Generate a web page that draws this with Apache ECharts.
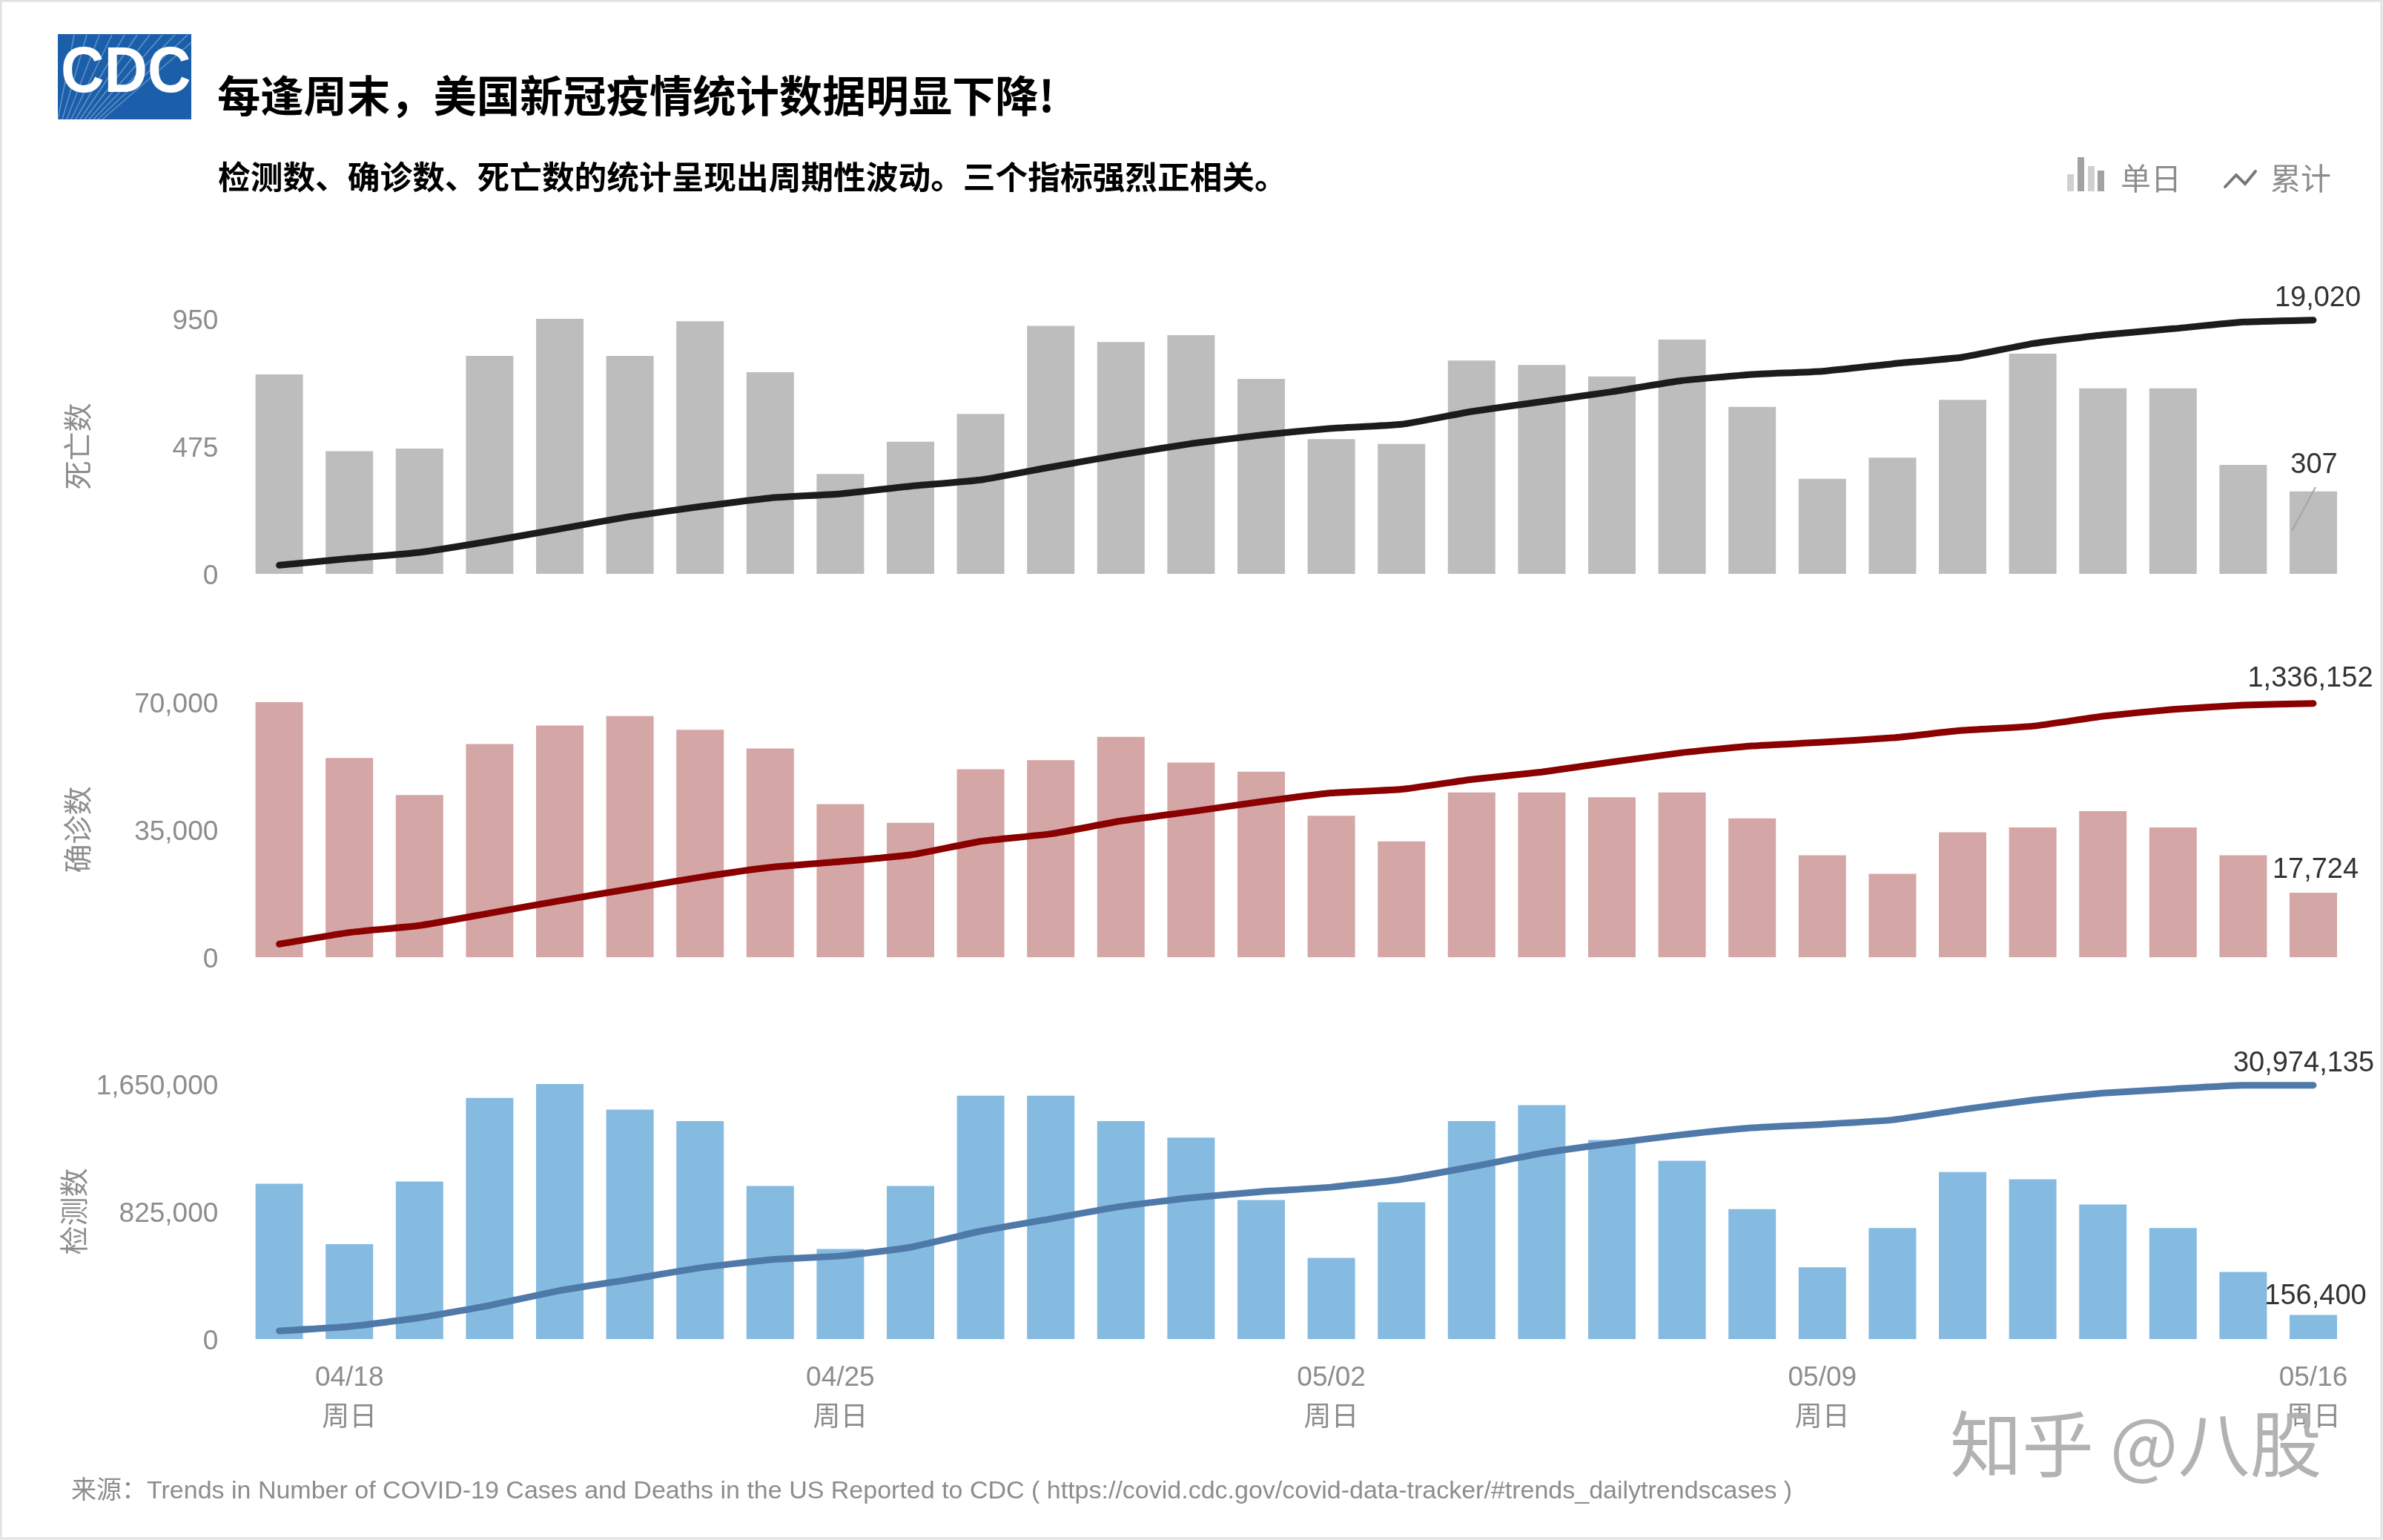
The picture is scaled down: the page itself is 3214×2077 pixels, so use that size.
<!DOCTYPE html>
<html><head><meta charset="utf-8">
<style>html,body{margin:0;padding:0;background:#fff}#c{width:3214px;height:2077px}</style>
<script src="https://cdn.jsdelivr.net/npm/echarts@6/dist/echarts.min.js"></script>
</head><body><div id="c"></div>
<script>
const dates = ['04/17','04/18','04/19','04/20','04/21','04/22','04/23','04/24','04/25','04/26','04/27','04/28','04/29','04/30','05/01','05/02','05/03','05/04','05/05','05/06','05/07','05/08','05/09','05/10','05/11','05/12','05/13','05/14','05/15','05/16'];
const shownDates = ['04/18','04/25','05/02','05/09','05/16'];
const weekdayLabel = '周日';

const deathDaily = [743,457,467,812,950,812,941,751,372,492,596,924,864,889,726,502,484,795,778,735,873,622,354,433,648,820,691,691,406,307];
const deathTotal = [648,1148,1611,2445,3371,4297,5038,5686,6001,6575,7038,8001,8927,9760,10408,10908,11205,12168,12908,13649,14483,14946,15186,15742,16242,17261,17909,18372,18872,19020];
const caseDaily = [70000,54700,44500,58500,63600,66200,62400,57300,42000,36900,51600,54100,60500,53400,50900,38800,31800,45200,45200,43900,45200,38100,28000,22900,34300,35600,40100,35600,28000,17724];
const caseTotal = [69100,130400,166900,232000,297200,359800,421100,473200,503200,538400,610100,649200,717000,766500,818700,864300,883800,936000,975100,1027200,1076800,1112000,1131500,1155000,1194100,1216300,1268400,1304900,1327100,1336152];
const testDaily = [1004800,614400,1019200,1560000,1650000,1484800,1409600,990400,582400,990400,1574400,1574400,1409600,1304000,899200,524800,884800,1409600,1513600,1288000,1153600,840000,464000,718400,1080000,1033600,870400,718400,433600,156400];
const testTotal = [996000,1539600,2596300,4105700,5917000,7275500,8694400,9690700,10143500,11200100,13162400,14671900,16181300,17237900,17992600,18536000,19502100,21011500,22671900,23879500,24936100,25781400,26204100,26747500,28015400,29162600,30007900,30521100,30974135,30974135];

const dailyAxisMax = [950,70000,1650000];
const totalAxisMax = [19113,1342670,31125000];
const panelNames = ['死亡数','确诊数','检测数'];
const titleText = '每逢周末，美国新冠疫情统计数据明显下降!';
const subtitleText = '检测数、确诊数、死亡数的统计呈现出周期性波动。三个指标强烈正相关。';
const sourceText = '来源：Trends in Number of COVID-19 Cases and Deaths in the US Reported to CDC ( https://covid.cdc.gov/covid-data-tracker/#trends_dailytrendscases )';
const watermark = '知乎 @八股';

const FONT = '"Liberation Sans","Noto Sans CJK SC",sans-serif';
const CJK = '"Noto Sans CJK SC",sans-serif';
const GREY = '#8d8d8d', DARK = '#333333';
const panels = [
  {daily:deathDaily,total:deathTotal,bar:'#BDBDBD',line:'#1C1C1C',top:430,totalOffset:[6,4],dailyOffset:[1,-6]},
  {daily:caseDaily,total:caseTotal,bar:'#D5A6A6',line:'#8B0000',top:947,totalOffset:[-4,0],dailyOffset:[3,-1]},
  {daily:testDaily,total:testTotal,bar:'#85BBE1',line:'#4F79A8',top:1462,totalOffset:[-13,4],dailyOffset:[3,4]}
];
const GRID_LEFT=329.3, GRID_W=2838, GRID_H=344;
const fmt = v => Number(v).toLocaleString('en-US');
const lastLabelled = (arr, label) => arr.map((v,i)=> i===arr.length-1 ? {value:v,label} : v);

const grid=[],xAxis=[],yAxis=[],series=[];
panels.forEach((p,i)=>{
  grid.push({left:GRID_LEFT,width:GRID_W,top:p.top,height:GRID_H});
  xAxis.push({type:'category',gridIndex:i,data:dates,axisLine:{show:false},axisTick:{show:false},
    axisLabel: i===2 ? {show:true,interval:0,margin:26,fontFamily:FONT,fontSize:37,color:GREY,lineHeight:54,
      formatter:v=>shownDates.includes(v)?v+'\n'+weekdayLabel:''} : {show:false}});
  yAxis.push({type:'value',gridIndex:i,min:0,max:dailyAxisMax[i],interval:dailyAxisMax[i]/2,
    name:panelNames[i],nameLocation:'middle',nameGap:206,nameRotate:90,
    nameTextStyle:{fontFamily:CJK,fontSize:39,color:GREY},
    axisLine:{show:false},axisTick:{show:false},splitLine:{show:false},
    axisLabel:{margin:35,formatter:v=>'{s|}\n{a|'+fmt(v)+'}',
      rich:{s:{height:8,lineHeight:8,fontSize:1},a:{fontFamily:FONT,fontSize:37,color:GREY,lineHeight:42}}}});
  yAxis.push({type:'value',gridIndex:i,min:0,max:totalAxisMax[i],show:false,splitLine:{show:false}});
  series.push({type:'bar',xAxisIndex:i,yAxisIndex:i*2,barWidth:64,itemStyle:{color:p.bar},
    data:lastLabelled(p.daily,{show:true,position:'top',distance:10,offset:p.dailyOffset,fontFamily:FONT,fontSize:38,color:DARK,formatter:o=>fmt(o.value)})});
  series.push({type:'line',xAxisIndex:i,yAxisIndex:i*2+1,smooth:0.15,symbol:'circle',symbolSize:1,showSymbol:true,showAllSymbol:true,
    itemStyle:{color:p.line},
    lineStyle:{color:p.line,width:9,cap:'round',join:'round'},z:5,
    data:lastLabelled(p.total,{show:true,position:'top',distance:14,offset:p.totalOffset,fontFamily:FONT,fontSize:38,color:DARK,formatter:o=>fmt(o.value)})});
});

const logoLines=[];
for(let k=0;k<11;k++){
  logoLines.push({type:'line',z:11,shape:{x1:78+k*6,y1:161,x2:100+k*17,y2:47},style:{stroke:'#ffffff',lineWidth:1.5,opacity:.32}});
}
const graphic=[
  {type:'rect',z:0,shape:{x:1,y:1,width:3211,height:2074},style:{fill:'none',stroke:'#e2e2e2',lineWidth:3}},
  {type:'rect',z:10,shape:{x:78,y:46,width:180,height:115},style:{fill:'#1B5FAA'}},
  ...logoLines,
  {type:'text',z:12,left:82,top:56,scaleX:.92,style:{text:'CDC',fontFamily:'"Liberation Sans"',fontWeight:'bold',fontSize:88,fill:'#fff'}},
  {type:'text',z:12,x:293,y:129,style:{text:titleText,fontFamily:CJK,fontWeight:'bold',fontSize:58.3,fill:'#000',verticalAlign:'middle'}},
  {type:'text',z:12,x:294,y:238,style:{text:subtitleText,fontFamily:CJK,fontWeight:'bold',fontSize:43.7,fill:'#000',verticalAlign:'middle'}},
  {type:'rect',z:12,shape:{x:2788,y:235,width:9,height:23},style:{fill:'#d0d0d0'}},
  {type:'rect',z:12,shape:{x:2802,y:212,width:9,height:46},style:{fill:'#a2a2a2'}},
  {type:'rect',z:12,shape:{x:2816,y:224,width:9,height:34},style:{fill:'#d0d0d0'}},
  {type:'rect',z:12,shape:{x:2829,y:230,width:9,height:28},style:{fill:'#a2a2a2'}},
  {type:'text',z:12,x:2860,y:240,style:{text:'单日',fontFamily:CJK,fontSize:41,fill:GREY,verticalAlign:'middle'}},
  {type:'polyline',z:12,shape:{points:[[3001,252],[3016,236],[3028,248],[3042,231]]},style:{fill:'none',stroke:'#777',lineWidth:4,lineCap:'round'}},
  {type:'text',z:12,x:3062,y:240,style:{text:'累计',fontFamily:CJK,fontSize:41,fill:GREY,verticalAlign:'middle'}},
  {type:'line',z:12,shape:{x1:3123,y1:657,x2:3091,y2:716},style:{stroke:'#a4a4a4',lineWidth:2}},
  {type:'text',z:12,x:96,y:2012,style:{text:sourceText,fontFamily:FONT,fontSize:34,fill:GREY,verticalAlign:'middle'}},
  {type:'text',z:20,x:2630,y:1947,style:{text:watermark,fontFamily:CJK,fontSize:97,fill:'#b2b2b2',verticalAlign:'middle'}}
];

const chart=echarts.init(document.getElementById('c'),null,{renderer:'canvas'});
chart.setOption({animation:false,backgroundColor:'#fff',grid,xAxis,yAxis,series,graphic,tooltip:{show:false},legend:{show:false}});
</script></body></html>
